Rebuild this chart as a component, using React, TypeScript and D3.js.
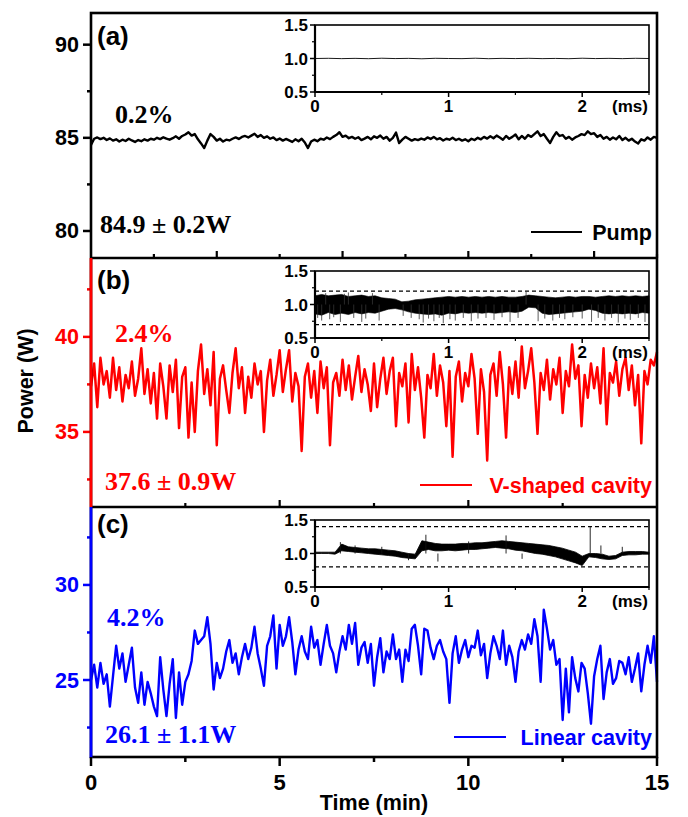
import React from "react";
import * as d3 from "d3";

// main traces, one sample every 5 s (1/12 min)
const sampleStepMin = 1 / 12;

const pumpPower = [
  84.62, 84.95, 85.02, 84.93, 85.0, 84.88, 84.97, 84.85, 84.92, 84.8,
  84.9, 84.83, 84.95, 84.86, 84.78, 84.88, 84.82, 84.92, 84.85, 84.95,
  84.9, 85.0, 84.93, 85.03, 84.96, 84.9, 84.98, 85.08, 84.95, 85.1,
  85.18, 85.3, 85.12, 85.2, 84.92, 84.7, 84.45, 84.85, 85.2, 85.05,
  84.85, 84.95, 84.8, 84.9, 84.86, 84.95, 85.02, 84.94, 85.05, 85.1,
  85.02, 85.12, 85.22, 85.05, 85.15, 85.0, 85.08, 84.95, 85.02, 84.88,
  84.96, 84.85, 84.94, 84.86, 84.78, 84.92, 84.82, 84.95, 84.75, 84.45,
  84.8, 84.9, 84.82, 84.95, 84.9, 85.02, 84.93, 85.05, 85.15, 85.3,
  85.05, 85.12, 84.98, 85.05, 84.95, 85.03, 84.88, 84.96, 85.05, 84.92,
  85.08, 85.0, 85.12, 84.95, 85.05, 84.85, 85.0, 85.28, 84.72, 84.9,
  85.05, 84.95, 84.85, 84.93, 84.88, 84.96, 84.9, 85.02, 84.94, 85.05,
  84.92, 84.98, 84.86, 84.95, 84.9, 85.0, 84.88, 84.95, 84.85, 84.92,
  84.82, 84.95, 84.88, 85.0, 84.92, 85.05, 84.96, 85.08, 84.98, 85.12,
  85.02, 84.9, 85.1, 84.95, 85.05, 85.18, 84.92, 85.1, 84.95, 85.15,
  85.05, 85.2, 85.35, 85.1, 85.2, 84.95, 84.72, 85.05, 85.3, 85.1,
  85.15, 84.95, 85.05, 84.9, 85.02, 85.1, 85.2, 85.15, 85.35, 85.2,
  85.25, 85.05, 85.15, 84.95, 85.05, 84.9, 85.02, 84.92, 85.1, 84.88,
  85.0, 84.85, 84.95, 84.8, 84.7, 84.92, 84.85, 85.02, 84.9, 85.05,
  85.0,
];

const vCavityPower = [
  37.4, 38.6, 36.3, 38.9, 37.5, 38.2, 36.8, 38.9, 37.2, 38.4,
  36.6, 38.0, 37.3, 38.7, 36.9, 37.8, 39.4, 37.0, 38.3, 36.5,
  38.1, 35.7, 38.6, 37.4, 35.7, 38.5, 37.1, 38.8, 35.2, 37.9,
  38.4, 34.7, 37.6, 35.0, 38.2, 39.6, 37.0, 38.3, 36.4, 39.2,
  34.3, 37.8, 38.5, 37.2, 36.0, 38.1, 39.4, 37.3, 38.4, 36.0,
  37.9, 36.8, 38.6, 37.5, 38.2, 35.0, 37.7, 38.8, 36.9, 38.0,
  39.3, 37.1, 38.3, 39.3, 36.6, 38.1, 37.4, 34.0, 37.9, 38.6,
  36.8, 38.2, 36.0, 38.7, 37.3, 38.4, 34.3, 37.6, 38.1, 36.9,
  38.8, 37.2, 38.5, 36.7, 37.9, 39.0, 37.1, 38.3, 37.5, 36.1,
  38.6, 36.3, 37.8, 38.9, 37.0, 38.2, 38.9, 35.3, 38.1, 37.4,
  38.6, 35.5, 39.1, 37.2, 38.4, 36.8, 34.7, 38.0, 37.3, 39.1,
  36.9, 38.5, 37.6, 35.3, 38.2, 33.7, 37.9, 38.7, 36.6, 38.1,
  37.4, 39.1, 37.8, 34.9, 38.3, 37.1, 33.5, 38.0, 38.6, 36.9,
  39.2, 37.5, 34.7, 38.4, 37.0, 38.7, 36.8, 39.5, 37.3, 38.2,
  39.4, 37.6, 34.9, 38.1, 37.2, 38.8, 36.7, 38.3, 37.5, 38.9,
  36.0, 38.2, 37.4, 39.6, 37.8, 38.5, 35.3, 38.0, 36.8, 38.6,
  37.3, 38.4, 36.5, 39.4, 35.4, 38.1, 37.6, 38.7, 36.9, 38.3,
  38.9, 37.2, 38.5, 36.4, 38.0, 34.4, 38.2, 37.5, 38.8, 38.5,
  39.2,
];

const linearPower = [
  25.0, 25.8, 24.6, 25.9, 24.8, 25.3, 23.6, 25.2, 26.8, 25.6,
  26.4, 24.9, 25.8, 26.7, 24.6, 23.8, 25.4, 23.7, 24.9, 24.3,
  23.6, 23.1, 26.2, 24.5, 23.1, 24.8, 26.1, 23.0, 25.4, 23.7,
  24.9, 25.3, 26.0, 27.6, 26.9, 27.1, 27.3, 28.3, 26.9, 24.5,
  25.9, 25.1, 25.6, 26.5, 27.1, 25.9, 26.4, 25.3, 26.2, 26.9,
  26.1, 26.7, 27.8, 26.4, 25.6, 24.7, 26.8, 27.3, 28.4, 25.6,
  27.9, 26.8, 27.3, 28.3, 27.0, 25.3, 26.6, 27.3, 26.5, 26.1,
  27.8, 26.7, 27.1, 25.8, 26.9, 27.9, 26.8, 26.4, 25.4, 26.5,
  27.3, 26.6, 27.9, 26.9, 28.0, 25.8, 26.7, 27.0, 25.9, 26.9,
  24.7, 26.2, 27.2, 25.4, 26.5, 26.1, 27.4, 26.1, 26.6, 24.9,
  26.6, 26.0, 27.7, 27.9, 26.8, 25.3, 27.7, 27.6, 26.7, 26.1,
  26.8, 27.1, 26.5, 26.1, 23.8, 26.4, 27.3, 25.9, 26.6, 27.1,
  26.2, 26.8, 26.7, 27.6, 26.3, 26.9, 25.1, 26.4, 27.3, 26.8,
  26.1, 27.6, 25.8, 26.8, 26.2, 24.9, 26.5, 27.1, 26.6, 27.4,
  26.9, 28.2, 27.3, 24.9, 28.7, 27.7, 26.6, 27.1, 25.8, 26.1,
  22.9, 25.6, 23.3, 26.2, 25.1, 24.4, 25.9, 25.6, 24.3, 22.7,
  25.2, 26.1, 26.8, 24.0, 25.4, 26.1, 24.8, 25.1, 26.0, 25.9,
  25.3, 26.2, 24.9, 25.6, 26.4, 24.4, 25.8, 26.8, 25.9, 27.3,
  24.9,
];

// insets, normalised power vs time in ms
const insetPumpStep = 0.1;
const insetPump = [
  1.0, 1.003, 0.998, 1.002, 0.997, 1.004, 0.999, 1.002, 0.996, 1.003,
  1.0, 0.998, 1.004, 0.997, 1.002, 0.999, 1.003, 0.998, 1.001, 0.997,
  1.004, 0.999, 1.002, 0.998, 1.003, 1.0,
];

const insetBandStep = 0.05;
const insetVUpper = [
  1.13, 1.15, 1.13, 1.14, 1.15, 1.12, 1.13, 1.14, 1.12, 1.13,
  1.1, 1.09, 1.08, 1.04, 1.05, 1.07, 1.08, 1.09, 1.1, 1.11,
  1.12, 1.11, 1.12, 1.11, 1.12, 1.11, 1.12, 1.11, 1.12, 1.11,
  1.11, 1.12, 1.14, 1.13, 1.12, 1.11, 1.1, 1.11, 1.12, 1.11,
  1.12, 1.12, 1.11, 1.12, 1.13, 1.12, 1.13, 1.12, 1.13, 1.12,
  1.13,
];
const insetVLower = [
  0.86, 0.84, 0.88, 0.85, 0.87, 0.85, 0.88, 0.86, 0.88, 0.87,
  0.9, 0.93, 0.94, 0.92, 0.89, 0.87, 0.86, 0.85, 0.86, 0.84,
  0.87, 0.86, 0.88, 0.87, 0.88, 0.87, 0.88, 0.87, 0.88, 0.89,
  0.88, 0.9, 0.96, 0.95, 0.87, 0.85, 0.86, 0.87, 0.88, 0.89,
  0.9, 0.93, 0.91, 0.87, 0.86, 0.87, 0.86, 0.87, 0.86, 0.88,
  0.87,
];
const insetVSpikeT = [
  0.02, 0.05, 0.08, 0.11, 0.14, 0.19, 0.22, 0.25, 0.29, 0.35, 0.38, 0.43,
  0.48, 0.66, 0.72, 0.78, 0.81, 0.85, 0.89, 0.93, 0.96, 1.01, 1.05, 1.11,
  1.17, 1.22, 1.28, 1.34, 1.4, 1.46, 1.52, 1.58, 1.67, 1.72, 1.78, 1.83,
  1.87, 1.93, 2.0, 2.07, 2.12, 2.17, 2.22, 2.27, 2.32, 2.36, 2.42, 2.47,
];
const insetVSpikeV = [
  0.8, 0.76, 1.17, 0.78, 0.81, 0.74, 1.16, 1.18, 0.8, 0.74, 0.79, 1.17,
  0.76, 0.83, 0.8, 0.78, 0.73, 0.79, 0.75, 0.8, 0.72, 0.78, 0.76, 0.8,
  0.75, 0.79, 0.8, 0.77, 0.81, 0.74, 0.8, 1.19, 0.75, 0.79, 0.76, 0.8,
  0.78, 0.81, 0.79, 0.74, 0.8, 0.76, 0.8, 0.73, 0.79, 0.77, 0.8, 0.74,
];

const insetLUpper = [
  1.02, 1.02, 1.02, 1.02, 1.14, 1.1, 1.09, 1.08, 1.07, 1.07,
  1.06, 1.05, 1.04, 1.02, 1.0, 0.99, 1.19, 1.17, 1.15, 1.14,
  1.14, 1.14, 1.15, 1.15, 1.16, 1.16, 1.17, 1.18, 1.19, 1.18,
  1.17, 1.16, 1.15, 1.14, 1.13, 1.12, 1.1, 1.08, 1.05, 1.02,
  0.96, 1.0, 1.0, 0.99, 0.96, 0.97, 1.02, 1.03, 1.03, 1.03,
  1.02,
];
const insetLLower = [
  1.0, 1.0, 1.0, 0.99, 1.04, 1.03, 1.02, 1.01, 1.0, 0.99,
  0.98, 0.97, 0.96, 0.94, 0.93, 0.92, 1.04, 1.06, 1.04, 1.04,
  1.05, 1.04, 1.05, 1.06, 1.06, 1.07, 1.08, 1.09, 1.08, 1.07,
  1.05, 1.04, 1.02, 1.0, 0.99, 0.97, 0.95, 0.92, 0.89, 0.86,
  0.82, 0.95, 0.94, 0.92, 0.91, 0.92, 0.97, 0.98, 0.98, 0.99,
  0.99,
];
const insetLSpikeT = [0.19, 0.3, 0.5, 0.7, 0.83, 0.92, 1.15, 1.43, 1.55, 2.06, 2.14, 2.3];
const insetLSpikeV = [1.17, 1.12, 1.1, 0.9, 1.28, 0.88, 1.18, 1.27, 0.92, 1.4, 1.12, 1.1];

// axis ticks
const minMajor = [0, 5, 10, 15];
const minMinor = [2.5, 7.5, 12.5];
const secMajor = [200, 400, 600, 800];
const secMinor = [100, 300, 500, 700, 900];
const insetYMajor = [0.5, 1.0, 1.5];
const insetYMinor = [0.75, 1.25];
const insetXMajor = [0, 1, 2];
const insetXMinor = [0.5, 1.5, 2.5];

const SANS = "'Liberation Sans', Arial, Helvetica, sans-serif";
const SERIF = "'Liberation Serif', 'Times New Roman', serif";
const RED = "#ff0000";
const BLUE = "#0000ff";

const LEFT = 91;
const RIGHT = 657;
const x = d3.scaleLinear().domain([0, 15]).range([LEFT, RIGHT]);
const xSec = d3.scaleLinear().domain([0, 900]).range([LEFT, RIGHT]);
const xi = d3.scaleLinear().domain([0, 2.5]).range([315, 649]);

function Inset({ top, bottom, children, dashed }) {
  const yi = d3.scaleLinear().domain([0.5, 1.5]).range([bottom, top]);
  return (
    <g>
      <rect x={315} y={top} width={649 - 315} height={bottom - top} fill="none" stroke="#000" strokeWidth={1.6} />
      {dashed.map((v) => (
        <line key={v} x1={315} x2={649} y1={yi(v)} y2={yi(v)} stroke="#000" strokeWidth={1.2} strokeDasharray="4,3" />
      ))}
      {children(yi)}
      <line x1={315} x2={315} y1={top} y2={bottom + 0.5} stroke="#000" strokeWidth={2.2} />
      <line x1={314} x2={649} y1={bottom} y2={bottom} stroke="#000" strokeWidth={2.2} />
      {insetYMajor.map((v) => (
        <g key={v}>
          <line x1={310} x2={315} y1={yi(v)} y2={yi(v)} stroke="#000" strokeWidth={1.5} />
          <text x={308} y={yi(v) + 6} textAnchor="end" fontFamily={SANS} fontWeight="bold" fontSize={17}>
            {d3.format(".1f")(v)}
          </text>
        </g>
      ))}
      {insetYMinor.map((v) => (
        <line key={v} x1={312} x2={315} y1={yi(v)} y2={yi(v)} stroke="#000" strokeWidth={1.2} />
      ))}
      {insetXMajor.map((v) => (
        <g key={v}>
          <line x1={xi(v)} x2={xi(v)} y1={bottom} y2={bottom + 5} stroke="#000" strokeWidth={1.5} />
          <text x={xi(v)} y={bottom + 20} textAnchor="middle" fontFamily={SANS} fontWeight="bold" fontSize={17}>
            {v}
          </text>
        </g>
      ))}
      {insetXMinor.map((v) => (
        <line key={v} x1={xi(v)} x2={xi(v)} y1={bottom} y2={bottom + 3} stroke="#000" strokeWidth={1.2} />
      ))}
      <text x={648} y={bottom + 20} textAnchor="end" fontFamily={SANS} fontWeight="bold" fontSize={17}>
        (ms)
      </text>
    </g>
  );
}

function band(upper, lower, yi) {
  const area = d3
    .area<number>()
    .x((d, i) => xi(i * insetBandStep))
    .y0((d, i) => yi(lower[i]))
    .y1((d) => yi(d));
  return area(upper);
}

const panels = [
  {
    key: "a", top: 13, bottom: 258, domain: [78.55, 91.7], major: [80, 85, 90], minor: [82.5, 87.5],
    color: "#000", spine: "#000", data: pumpPower, label: "(a)", labelY: 45, lw: 2.4,
    pct: "0.2%", pctX: 115, pctY: 123, mean: "84.9 ± 0.2W", meanX: 100, meanY: 233,
    legend: "Pump", legX1: 531, legX2: 582, legY: 232, legTextY: 240,
  },
  {
    key: "b", top: 258, bottom: 507, domain: [31.05, 44.15], major: [35, 40], minor: [32.5, 37.5, 42.5],
    color: RED, spine: RED, data: vCavityPower, label: "(b)", labelY: 289, lw: 2.5,
    pct: "2.4%", pctX: 115, pctY: 342, mean: "37.6 ± 0.9W", meanX: 105, meanY: 490,
    legend: "V-shaped cavity", legX1: 420, legX2: 472, legY: 485, legTextY: 493,
  },
  {
    key: "c", top: 507, bottom: 757, domain: [20.95, 34.1], major: [25, 30], minor: [22.5, 27.5, 32.5],
    color: BLUE, spine: BLUE, data: linearPower, label: "(c)", labelY: 533, lw: 2.4,
    pct: "4.2%", pctX: 107, pctY: 626, mean: "26.1 ± 1.1W", meanX: 105, meanY: 743,
    legend: "Linear cavity", legX1: 454, legX2: 506, legY: 737, legTextY: 745,
  },
];

export default function App() {
  return (
    <svg width={688} height={817} style={{ position: "absolute", left: 0, top: 0, background: "#fff" }}>
      <rect width={688} height={817} fill="#fff" />
      {panels.map((p) => {
        const y = d3.scaleLinear().domain(p.domain).range([p.bottom, p.top]);
        const line = d3
          .line<number>()
          .x((d, i) => x(i * sampleStepMin))
          .y((d) => y(d));
        return (
          <g key={p.key}>
            <path d={line(p.data) || ""} fill="none" stroke={p.color} strokeWidth={p.lw} strokeLinejoin="round" />
            {p.major.map((v) => (
              <g key={v}>
                <line x1={LEFT - 8} x2={LEFT} y1={y(v)} y2={y(v)} stroke={p.spine} strokeWidth={2.5} />
                <text x={79} y={y(v) + 7.5} textAnchor="end" fontFamily={SANS} fontWeight="bold" fontSize={21.5} fill={p.color}>
                  {v}
                </text>
              </g>
            ))}
            {p.minor.map((v) => (
              <line key={v} x1={LEFT - 4} x2={LEFT} y1={y(v)} y2={y(v)} stroke={p.spine} strokeWidth={2.5} />
            ))}
            <text x={97} y={p.labelY} fontFamily={SANS} fontWeight="bold" fontSize={26}>
              {p.label}
            </text>
            <text x={p.pctX} y={p.pctY} fontFamily={SERIF} fontWeight="bold" fontSize={26} fill={p.color}>
              {p.pct}
            </text>
            <text x={p.meanX} y={p.meanY} fontFamily={SERIF} fontWeight="bold" fontSize={26} fill={p.color}>
              {p.mean}
            </text>
            <line x1={p.legX1} x2={p.legX2} y1={p.legY} y2={p.legY} stroke={p.color} strokeWidth={2} />
            <text x={652} y={p.legTextY} textAnchor="end" fontFamily={SANS} fontWeight="bold" fontSize={21.5} fill={p.color}>
              {p.legend}
            </text>
          </g>
        );
      })}

      {/* insets */}
      <Inset top={25} bottom={92} dashed={[]}>
        {(yi) => (
          <path
            d={
              d3
                .line<number>()
                .x((d, i) => xi(i * insetPumpStep))
                .y((d) => yi(d))(insetPump) || ""
            }
            fill="none"
            stroke="#000"
            strokeWidth={0.9}
          />
        )}
      </Inset>
      <Inset top={271} bottom={338} dashed={[1.2, 0.7]}>
        {(yi) => (
          <g>
            <path d={band(insetVUpper, insetVLower, yi) || ""} fill="#000" stroke="#000" strokeWidth={0.6} />
            {insetVSpikeT.map((t, i) => (
              <line key={i} x1={xi(t)} x2={xi(t)} y1={yi(1.0)} y2={yi(insetVSpikeV[i])} stroke="#333" strokeWidth={0.8} />
            ))}
          </g>
        )}
      </Inset>
      <Inset top={520} bottom={587} dashed={[1.4, 0.8]}>
        {(yi) => (
          <g>
            <path d={band(insetLUpper, insetLLower, yi) || ""} fill="#000" stroke="#000" strokeWidth={0.8} />
            {insetLSpikeT.map((t, i) => (
              <line key={i} x1={xi(t)} x2={xi(t)} y1={yi(1.0)} y2={yi(insetLSpikeV[i])} stroke="#111" strokeWidth={0.9} />
            ))}
          </g>
        )}
      </Inset>

      {/* frame and separators */}
      <rect x={LEFT} y={13} width={RIGHT - LEFT} height={757 - 13} fill="none" stroke="#000" strokeWidth={2.6} />
      <line x1={LEFT} x2={RIGHT} y1={258} y2={258} stroke="#000" strokeWidth={2.6} />
      <line x1={LEFT} x2={RIGHT} y1={507} y2={507} stroke="#000" strokeWidth={2.6} />
      <line x1={LEFT} x2={LEFT} y1={258} y2={507} stroke={RED} strokeWidth={2.8} />
      <line x1={LEFT} x2={LEFT} y1={507} y2={758} stroke={BLUE} strokeWidth={2.8} />

      {/* panel (a) bottom axis in seconds, ticks pointing up */}
      {secMajor.map((v) => (
        <line key={v} x1={xSec(v)} x2={xSec(v)} y1={258} y2={251} stroke="#000" strokeWidth={2.2} />
      ))}
      {secMinor.map((v) => (
        <line key={v} x1={xSec(v)} x2={xSec(v)} y1={258} y2={254} stroke="#000" strokeWidth={2.2} />
      ))}
      {/* panel (b) bottom axis, ticks pointing up */}
      {minMajor.slice(1, 3).map((v) => (
        <line key={v} x1={x(v)} x2={x(v)} y1={507} y2={500} stroke="#000" strokeWidth={2.2} />
      ))}
      {minMinor.map((v) => (
        <line key={v} x1={x(v)} x2={x(v)} y1={507} y2={503} stroke="#000" strokeWidth={2.2} />
      ))}
      {/* panel (c) bottom axis */}
      {minMajor.map((v) => (
        <g key={v}>
          <line x1={x(v)} x2={x(v)} y1={757} y2={766} stroke="#000" strokeWidth={2.5} />
          <text x={x(v)} y={790} textAnchor="middle" fontFamily={SANS} fontWeight="bold" fontSize={22}>
            {v}
          </text>
        </g>
      ))}
      {minMinor.map((v) => (
        <line key={v} x1={x(v)} x2={x(v)} y1={757} y2={762} stroke="#000" strokeWidth={2.5} />
      ))}

      <text x={374} y={810} textAnchor="middle" fontFamily={SANS} fontWeight="bold" fontSize={21.5}>
        Time (min)
      </text>
      <text
        transform="translate(33,381) rotate(-90)"
        textAnchor="middle"
        fontFamily={SANS}
        fontWeight="bold"
        fontSize={21.5}
      >
        Power (W)
      </text>
    </svg>
  );
}
